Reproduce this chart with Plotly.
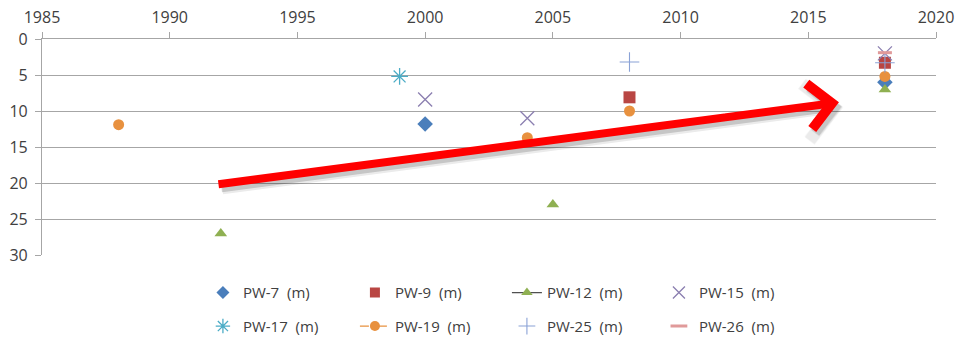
import plotly.graph_objects as go

# Depth to water (m) by year for each production well
pw7_years = [2000, 2018]
pw7_depth = [11.8, 6.0]
pw9_years = [2008, 2018]
pw9_depth = [8.1, 3.3]
pw12_years = [1992, 2005, 2018]
pw12_depth = [27.0, 23.0, 7.0]
pw15_years = [2000, 2004, 2018]
pw15_depth = [8.4, 11.0, 2.0]
pw17_years = [1999]
pw17_depth = [5.2]
pw19_years = [1988, 2004, 2008, 2018]
pw19_depth = [11.9, 13.7, 10.0, 5.2]
pw25_years = [2008, 2018]
pw25_depth = [3.2, 3.3]
pw26_years = [2018]
pw26_depth = [1.9]

series_names = ["PW-7  (m)", "PW-9  (m)", "PW-12  (m)", "PW-15  (m)",
                "PW-17  (m)", "PW-19  (m)", "PW-25  (m)", "PW-26  (m)"]

# Trend arrow: tail (year, depth) -> head (year, depth)
trend_tail = (1991.85, 20.2)
trend_head = (2016.2, 8.8)

FONT = "Open Sans"
TEXT = "#404040"
GRID = "#a6a6a6"

styles = [
    dict(symbol="diamond", size=12, color="#4a7ebb"),
    dict(symbol="square", size=12, color="#b94643"),
    dict(symbol="triangle-up", size=11, color="#8fb052"),
    dict(symbol="x-thin-open", size=14, color="#8b7fb0", line=dict(width=1.3, color="#8b7fb0")),
    dict(symbol="asterisk-open", size=14, color="#4bacc6", line=dict(width=1.3, color="#4bacc6")),
    dict(symbol="circle", size=11, color="#e8913f"),
    dict(symbol="cross-thin-open", size=14, color="#8aa2d6", line=dict(width=1.1, color="#8aa2d6")),
    dict(symbol="line-ew-open", size=10, color="#e09a9a", line=dict(width=3, color="#e09a9a")),
]
legend_lines = [None, None, dict(color="#505050", width=1.3), None,
                None, dict(color="#e8913f", width=1.3, dash="dash"), None, None]

data = [(pw7_years, pw7_depth), (pw9_years, pw9_depth), (pw12_years, pw12_depth),
        (pw15_years, pw15_depth), (pw17_years, pw17_depth), (pw19_years, pw19_depth),
        (pw25_years, pw25_depth), (pw26_years, pw26_depth)]

fig = go.Figure()

# Scatter markers (plot area)
for i, (xs, ys) in enumerate(data):
    fig.add_trace(go.Scatter(
        x=xs, y=ys, mode="markers", marker=styles[i],
        name=series_names[i], legendgroup=series_names[i], showlegend=False,
        hoverinfo="x+y+name"))

# Legend entries: first four on the top row, last four on the bottom row
for i in range(8):
    mode = "lines+markers" if legend_lines[i] else "markers"
    mk = dict(styles[i])
    if mk["symbol"] in ("circle", "triangle-up", "diamond", "square"):
        mk["size"] = 10
    else:
        mk["size"] = 12
    fig.add_trace(go.Scatter(
        x=[None], y=[None], mode=mode, marker=mk,
        line=legend_lines[i] if legend_lines[i] else None,
        name=series_names[i], legendgroup=series_names[i],
        legend="legend" if i < 4 else "legend2"))

legend_common = dict(orientation="h", xanchor="left", yanchor="middle",
                     entrywidth=107, entrywidthmode="pixels",
                     font=dict(family=FONT, size=15, color=TEXT),
                     bgcolor="rgba(0,0,0,0)", borderwidth=0,
                     itemclick=False, itemdoubleclick=False)

# Soft drop shadow under the trend arrow, then the arrow itself
for dx, dy, w, col in [(4, -5, 10, "rgba(0,0,0,0.08)"), (3, -4, 8, "rgba(0,0,0,0.16)")]:
    fig.add_annotation(x=trend_head[0], y=trend_head[1], ax=trend_tail[0], ay=trend_tail[1],
                       xref="x", yref="y", axref="x", ayref="y", text="",
                       showarrow=True, arrowhead=4, arrowsize=1.1, arrowwidth=w,
                       arrowcolor=col, xshift=dx, yshift=dy, standoff=0)
fig.add_annotation(x=trend_head[0], y=trend_head[1], ax=trend_tail[0], ay=trend_tail[1],
                   xref="x", yref="y", axref="x", ayref="y", text="",
                   showarrow=True, arrowhead=4, arrowsize=1.1, arrowwidth=8,
                   arrowcolor="#ff0000", standoff=0)

fig.update_layout(
    width=957, height=351,
    margin=dict(l=42, r=21, t=39, b=96, autoexpand=False),
    paper_bgcolor="white", plot_bgcolor="white",
    font=dict(family=FONT, size=15, color=TEXT),
    legend=dict(x=0.18, y=-0.175, **legend_common),
    legend2=dict(x=0.18, y=-0.33, **legend_common),
    xaxis=dict(range=[1985, 2020], dtick=5, tick0=1985, side="top",
               showgrid=False, zeroline=False,
               showline=True, linecolor=GRID, linewidth=1.2,
               ticks="outside", ticklen=6, tickcolor=GRID, ticklabelstandoff=3,
               tickfont=dict(family=FONT, size=16, color=TEXT)),
    yaxis=dict(range=[30, 0], dtick=5, tick0=0,
               showgrid=True, gridcolor=GRID, gridwidth=1.2, zeroline=False,
               showline=True, linecolor=GRID, linewidth=1.2,
               ticks="outside", ticklen=6, tickcolor=GRID, ticklabelstandoff=4,
               tickfont=dict(family=FONT, size=16, color=TEXT)),
    showlegend=True,
)

fig.write_html("out.html")
